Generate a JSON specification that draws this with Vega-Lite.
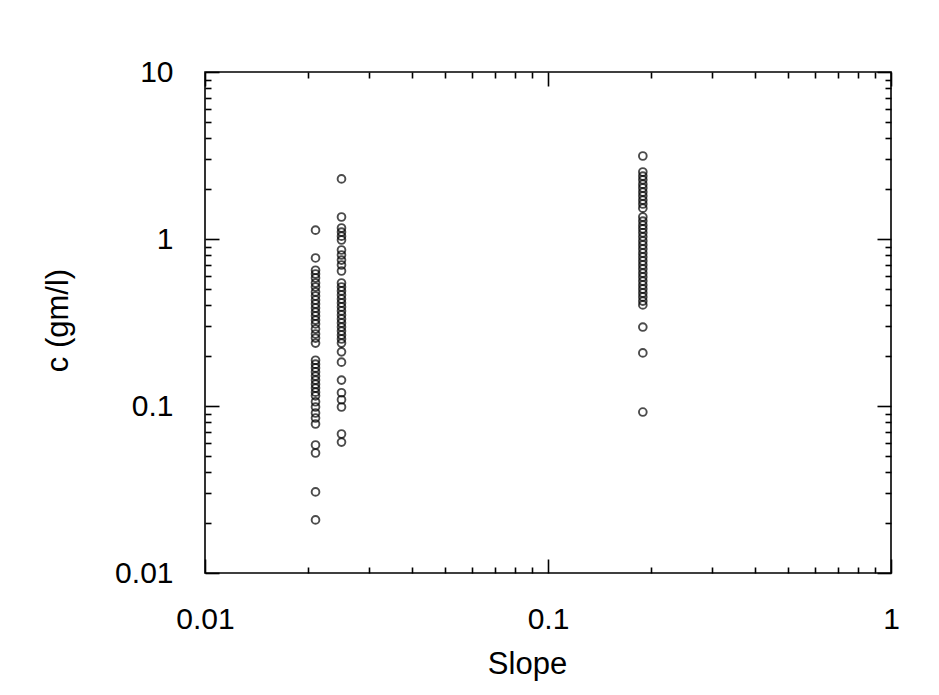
{
  "$schema": "https://vega.github.io/schema/vega-lite/v6.json",
  "width": 686,
  "height": 501,
  "autosize": {"type": "none"},
  "padding": {"left": 205, "top": 72, "right": 48, "bottom": 122},
  "background": "white",
  "config": {
    "view": {"stroke": "black", "strokeWidth": 1.6},
    "axis": {
      "domain": false,
      "grid": false,
      "tickColor": "black",
      "tickWidth": 1.6,
      "labelColor": "black",
      "titleColor": "black",
      "labelFont": "Liberation Sans",
      "titleFont": "Liberation Sans",
      "titleFontWeight": "normal",
      "labelFlush": false,
      "labelOverlap": false,
      "labelBound": false
    }
  },
  "data": {
    "values": [
      {"slope": 0.021, "c": 1.13}, {"slope": 0.021, "c": 0.77}, {"slope": 0.021, "c": 0.65}, {"slope": 0.021, "c": 0.617},
      {"slope": 0.021, "c": 0.584}, {"slope": 0.021, "c": 0.545}, {"slope": 0.021, "c": 0.516}, {"slope": 0.021, "c": 0.482},
      {"slope": 0.021, "c": 0.456}, {"slope": 0.021, "c": 0.431}, {"slope": 0.021, "c": 0.408}, {"slope": 0.021, "c": 0.386},
      {"slope": 0.021, "c": 0.365}, {"slope": 0.021, "c": 0.346}, {"slope": 0.021, "c": 0.327}, {"slope": 0.021, "c": 0.31},
      {"slope": 0.021, "c": 0.289}, {"slope": 0.021, "c": 0.27}, {"slope": 0.021, "c": 0.255}, {"slope": 0.021, "c": 0.238},
      {"slope": 0.021, "c": 0.188}, {"slope": 0.021, "c": 0.178}, {"slope": 0.021, "c": 0.169}, {"slope": 0.021, "c": 0.16},
      {"slope": 0.021, "c": 0.151}, {"slope": 0.021, "c": 0.143}, {"slope": 0.021, "c": 0.135}, {"slope": 0.021, "c": 0.128},
      {"slope": 0.021, "c": 0.121}, {"slope": 0.021, "c": 0.115}, {"slope": 0.021, "c": 0.106}, {"slope": 0.021, "c": 0.0986},
      {"slope": 0.021, "c": 0.0908}, {"slope": 0.021, "c": 0.0847}, {"slope": 0.021, "c": 0.078}, {"slope": 0.021, "c": 0.0584},
      {"slope": 0.021, "c": 0.0523}, {"slope": 0.021, "c": 0.0306}, {"slope": 0.021, "c": 0.0208},
      {"slope": 0.025, "c": 2.29}, {"slope": 0.025, "c": 1.355}, {"slope": 0.025, "c": 1.164}, {"slope": 0.025, "c": 1.1},
      {"slope": 0.025, "c": 1.04}, {"slope": 0.025, "c": 0.986}, {"slope": 0.025, "c": 0.859}, {"slope": 0.025, "c": 0.802},
      {"slope": 0.025, "c": 0.748}, {"slope": 0.025, "c": 0.699}, {"slope": 0.025, "c": 0.643}, {"slope": 0.025, "c": 0.545},
      {"slope": 0.025, "c": 0.516}, {"slope": 0.025, "c": 0.489}, {"slope": 0.025, "c": 0.462}, {"slope": 0.025, "c": 0.437},
      {"slope": 0.025, "c": 0.414}, {"slope": 0.025, "c": 0.392}, {"slope": 0.025, "c": 0.371}, {"slope": 0.025, "c": 0.351},
      {"slope": 0.025, "c": 0.332}, {"slope": 0.025, "c": 0.314}, {"slope": 0.025, "c": 0.297}, {"slope": 0.025, "c": 0.281},
      {"slope": 0.025, "c": 0.266}, {"slope": 0.025, "c": 0.252}, {"slope": 0.025, "c": 0.238}, {"slope": 0.025, "c": 0.211},
      {"slope": 0.025, "c": 0.183}, {"slope": 0.025, "c": 0.143}, {"slope": 0.025, "c": 0.12}, {"slope": 0.025, "c": 0.109},
      {"slope": 0.025, "c": 0.0986}, {"slope": 0.025, "c": 0.068}, {"slope": 0.025, "c": 0.0608},
      {"slope": 0.189, "c": 3.14}, {"slope": 0.189, "c": 2.52}, {"slope": 0.189, "c": 2.38}, {"slope": 0.189, "c": 2.26},
      {"slope": 0.189, "c": 2.13}, {"slope": 0.189, "c": 2.02}, {"slope": 0.189, "c": 1.91}, {"slope": 0.189, "c": 1.81},
      {"slope": 0.189, "c": 1.71}, {"slope": 0.189, "c": 1.62}, {"slope": 0.189, "c": 1.53}, {"slope": 0.189, "c": 1.355},
      {"slope": 0.189, "c": 1.28}, {"slope": 0.189, "c": 1.21}, {"slope": 0.189, "c": 1.15}, {"slope": 0.189, "c": 1.09},
      {"slope": 0.189, "c": 1.03}, {"slope": 0.189, "c": 0.973}, {"slope": 0.189, "c": 0.921}, {"slope": 0.189, "c": 0.871},
      {"slope": 0.189, "c": 0.824}, {"slope": 0.189, "c": 0.78}, {"slope": 0.189, "c": 0.738}, {"slope": 0.189, "c": 0.699},
      {"slope": 0.189, "c": 0.661}, {"slope": 0.189, "c": 0.625}, {"slope": 0.189, "c": 0.592}, {"slope": 0.189, "c": 0.56},
      {"slope": 0.189, "c": 0.53}, {"slope": 0.189, "c": 0.502}, {"slope": 0.189, "c": 0.475}, {"slope": 0.189, "c": 0.45},
      {"slope": 0.189, "c": 0.425}, {"slope": 0.189, "c": 0.403}, {"slope": 0.189, "c": 0.297}, {"slope": 0.189, "c": 0.208},
      {"slope": 0.189, "c": 0.092}
    ]
  },
  "resolve": {"axis": {"x": "independent", "y": "independent"}},
  "layer": [
    {
      "mark": {"type": "point", "shape": "circle", "filled": false, "size": 60, "strokeWidth": 1.9, "color": "black"},
      "encoding": {
        "x": {
          "field": "slope", "type": "quantitative",
          "scale": {"type": "log", "domain": [0.01, 1], "nice": false},
          "axis": {"orient": "bottom", "values": [0.01, 0.1, 1], "format": "~g", "tickSize": -14, "labelPadding": 45,
                   "labelFontSize": 30, "title": "Slope", "titleFontSize": 31, "titleBaseline": "alphabetic", "titleY": 100, "titleX": 322}
        },
        "y": {
          "field": "c", "type": "quantitative",
          "scale": {"type": "log", "domain": [0.01, 10], "nice": false},
          "axis": {"orient": "left", "values": [0.01, 0.1, 1, 10], "format": "~g", "tickSize": -14, "labelPadding": 46,
                   "labelFontSize": 30, "title": "c (gm/l)", "titleFontSize": 31, "titleBaseline": "alphabetic", "titleX": -138, "titleY": 248, "titleAngle": 270}
        }
      }
    },
    {
      "mark": {"type": "point", "opacity": 0},
      "encoding": {
        "x": {"field": "slope", "type": "quantitative", "scale": {"type": "log", "domain": [0.01, 1], "nice": false},
              "axis": {"orient": "bottom", "values": [0.02, 0.03, 0.04, 0.05, 0.06, 0.07, 0.08, 0.09, 0.2, 0.3, 0.4, 0.5, 0.6, 0.7, 0.8, 0.9], "tickSize": -6, "labels": false, "title": null}},
        "y": {"field": "c", "type": "quantitative", "scale": {"type": "log", "domain": [0.01, 10], "nice": false},
              "axis": {"orient": "left", "values": [0.02, 0.03, 0.04, 0.05, 0.06, 0.07, 0.08, 0.09, 0.2, 0.3, 0.4, 0.5, 0.6, 0.7, 0.8, 0.9, 2, 3, 4, 5, 6, 7, 8, 9], "tickSize": -6, "labels": false, "title": null}}
      }
    },
    {
      "mark": {"type": "point", "opacity": 0},
      "encoding": {
        "x": {"field": "slope", "type": "quantitative", "scale": {"type": "log", "domain": [0.01, 1], "nice": false},
              "axis": {"orient": "top", "values": [0.01, 0.1, 1], "tickSize": -14, "labels": false, "title": null}},
        "y": {"field": "c", "type": "quantitative", "scale": {"type": "log", "domain": [0.01, 10], "nice": false},
              "axis": {"orient": "right", "values": [0.01, 0.1, 1, 10], "tickSize": -14, "labels": false, "title": null}}
      }
    },
    {
      "mark": {"type": "point", "opacity": 0},
      "encoding": {
        "x": {"field": "slope", "type": "quantitative", "scale": {"type": "log", "domain": [0.01, 1], "nice": false},
              "axis": {"orient": "top", "values": [0.02, 0.03, 0.04, 0.05, 0.06, 0.07, 0.08, 0.09, 0.2, 0.3, 0.4, 0.5, 0.6, 0.7, 0.8, 0.9], "tickSize": -6, "labels": false, "title": null}},
        "y": {"field": "c", "type": "quantitative", "scale": {"type": "log", "domain": [0.01, 10], "nice": false},
              "axis": {"orient": "right", "values": [0.02, 0.03, 0.04, 0.05, 0.06, 0.07, 0.08, 0.09, 0.2, 0.3, 0.4, 0.5, 0.6, 0.7, 0.8, 0.9, 2, 3, 4, 5, 6, 7, 8, 9], "tickSize": -6, "labels": false, "title": null}}
      }
    }
  ]
}
